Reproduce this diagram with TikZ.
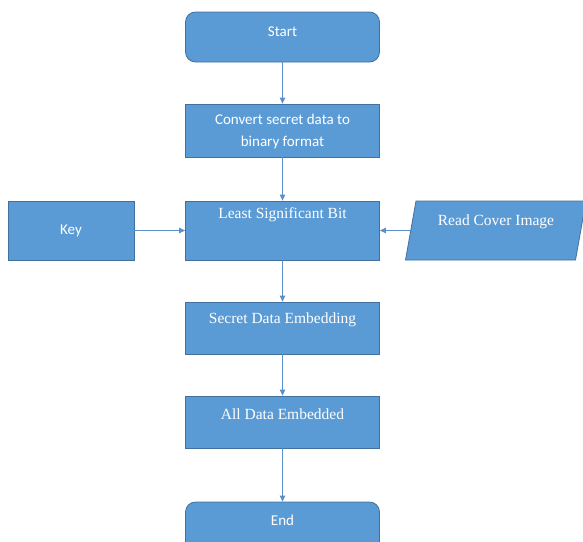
\documentclass[tikz,border=0pt]{standalone}
\usepackage{fontspec}
\setmainfont{Liberation Serif}
\newfontfamily\calib{Carlito}
\usetikzlibrary{arrows.meta}
\definecolor{boxfill}{HTML}{5B9BD5}
\definecolor{boxline}{HTML}{41719C}
\definecolor{arrowc}{HTML}{5B8FC9}
\tikzset{
  box/.style={draw=boxline, line width=0.8pt, fill=boxfill, minimum width=194pt, inner sep=0pt},
  rbox/.style={box, rounded corners=10pt},
  stxt/.style={text=white, font=\calib\fontsize{15}{22}\selectfont, align=center, inner sep=0pt},
  rtxt/.style={text=white, font=\fontsize{15.5}{18}\selectfont, align=center, inner sep=0pt},
  conn/.style={draw=arrowc, line width=0.9pt, -{Triangle[length=6pt,width=5.5pt]}}
}
\begin{document}
\begin{tikzpicture}[x=1pt,y=-1pt]
\useasboundingbox (0,0) rectangle (583,541);
\clip (0,0) rectangle (583,541);
% boxes
\node[rbox, minimum height=50pt] (start) at (282.5,37) {};
\node[stxt] (startt) at (282.5,32) {Start};
\node[box, minimum height=53pt] (conv) at (282.5,130.5) {};
\node[stxt] (convt) at (282.5,131) {Convert secret data to\\binary format};
\node[box, minimum width=126pt, minimum height=59pt] (key) at (71,230.5) {};
\node[stxt] (keyt) at (71,231) {Key};
\node[box, minimum height=59pt] (lsb) at (282.5,230.5) {};
\node[rtxt] (lsbt) at (282.5,215) {Least Significant Bit};
\draw[draw=boxline, line width=0.8pt, fill=boxfill] (416,201) -- (586,201) -- (575.5,260) -- (405.5,260) -- cycle;
\coordinate (rcil) at (411,230.5);
\node[rtxt] (rcit) at (496,222) {Read Cover Image};
\node[box, minimum height=52pt] (sde) at (282.5,328) {};
\node[rtxt] (sdet) at (282.5,320) {Secret Data Embedding};
\node[box, minimum height=52pt] (ade) at (282.5,422) {};
\node[rtxt] (adet) at (282.5,414) {All Data Embedded};
\node[rbox, minimum height=50pt] (end) at (282.5,527) {};
\node[stxt] (endt) at (282.5,520) {End};
% connectors
\draw[conn] (start) -- (conv);
\draw[conn] (conv) -- (lsb);
\draw[conn] (key) -- (lsb);
\draw[conn] (rcil) -- (lsb.east);
\draw[conn] (lsb) -- (sde);
\draw[conn] (sde) -- (ade);
\draw[conn] (ade) -- (end);
\end{tikzpicture}
\end{document}
